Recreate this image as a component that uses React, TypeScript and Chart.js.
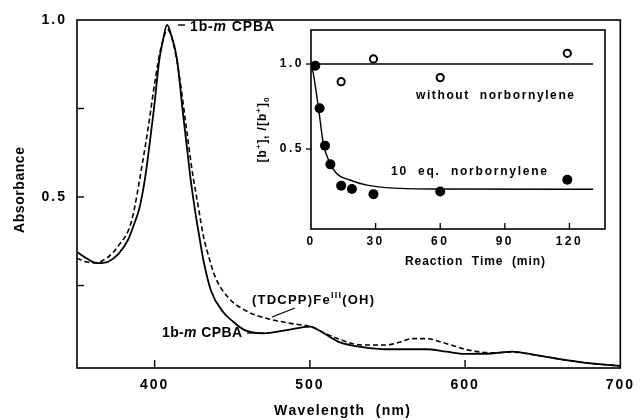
import React, { useEffect, useRef } from 'react';
import { Chart, registerables } from 'chart.js';

Chart.register(...registerables);

const FONT = '"Liberation Sans", Arial, Helvetica, sans-serif';

// ---- Main spectrum: 1b-mCPBA (solid) ----
const solidWavelength = [350, 355, 360, 364, 370, 377, 383, 387, 390, 393, 395.5, 399.5, 403, 405, 408, 410.5, 414.5, 418, 421, 423, 426, 429.5, 431.5, 436.5, 444, 450, 458, 470, 485, 500, 509, 519, 534, 549, 566, 575, 588, 600, 617, 630, 645, 664, 681, 700];
const solidAbsorbance = [0.345, 0.33, 0.317, 0.313, 0.317, 0.341, 0.38, 0.426, 0.465, 0.53, 0.605, 0.746, 0.887, 0.934, 0.986, 0.96, 0.887, 0.746, 0.633, 0.557, 0.463, 0.37, 0.32, 0.233, 0.176, 0.15, 0.124, 0.115, 0.124, 0.134, 0.115, 0.09, 0.076, 0.07, 0.07, 0.07, 0.063, 0.057, 0.058, 0.063, 0.054, 0.04, 0.03, 0.023];

// ---- Main spectrum: (TDCPP)Fe(III)(OH) (dashed) ----
const dashedWavelength = [350, 355, 361, 369, 377, 385, 392.5, 396, 400, 404, 408.5, 412, 416, 420, 424, 428.5, 431.5, 434, 439, 447, 460, 472.5, 487.5, 500, 515, 534, 549, 558, 566, 575, 587, 602, 617, 630, 645, 664, 681, 700];
const dashedAbsorbance = [0.327, 0.318, 0.314, 0.327, 0.364, 0.43, 0.605, 0.7, 0.82, 0.92, 0.972, 0.935, 0.84, 0.71, 0.58, 0.463, 0.388, 0.345, 0.275, 0.218, 0.176, 0.157, 0.143, 0.134, 0.105, 0.082, 0.082, 0.09, 0.1, 0.1, 0.087, 0.068, 0.06, 0.062, 0.054, 0.04, 0.03, 0.023];

const mainXTicks = [400, 500, 600, 700];
const mainYTicks = [0.25, 0.5, 0.75, 1.0];
const mainYLabels = ['', '0.5', '', '1.0'];

// ---- Inset ----
const withoutTime = [14, 29, 60, 119];
const withoutRatio = [0.896, 1.03, 0.92, 1.063];
const norbTime = [2, 4, 6.5, 9, 14, 19, 29, 60, 119];
const norbRatio = [0.99, 0.74, 0.52, 0.41, 0.285, 0.265, 0.235, 0.25, 0.32];
const fitTime = [0, 1, 2, 3.4, 5.7, 8.8, 11.9, 18, 26, 41, 60, 131];
const fitRatio = [1.0, 0.95, 0.87, 0.75, 0.535, 0.416, 0.357, 0.318, 0.288, 0.269, 0.265, 0.264];
const flatTime = [0, 131];
const flatRatio = [1.0, 1.0];

const insetXTicks = [0, 30, 60, 90, 120];
const insetYTicks = [0.5, 1.0];

type Part = { t: string; it?: boolean; sup?: boolean; sub?: boolean };

function fontOf(p: Part, size: number) {
  const s = p.sup || p.sub ? Math.round(size * 0.68) : size;
  return `${p.it ? 'italic ' : ''}bold ${s}px ${FONT}`;
}

function drawRich(ctx: any, parts: Part[], x: number, y: number, size: number, opts: { width?: number; align?: 'left' | 'center'; spacing?: number }) {
  ctx.save();
  ctx.textBaseline = 'middle';
  ctx.textAlign = 'left';
  ctx.fillStyle = '#000';
  try { ctx.letterSpacing = '0px'; } catch (e) { /* ignore */ }
  let nChars = 0;
  let natural = 0;
  for (const p of parts) {
    ctx.font = fontOf(p, size);
    for (const ch of Array.from(p.t)) { natural += ctx.measureText(ch).width; nChars += 1; }
  }
  let sp = opts.spacing ?? 0;
  if (opts.width) sp = (opts.width - natural) / Math.max(1, nChars - 1);
  const total = natural + sp * (nChars - 1);
  let cx = opts.align === 'center' ? x - total / 2 : x;
  for (const p of parts) {
    ctx.font = fontOf(p, size);
    const dy = p.sup ? -size * 0.38 : p.sub ? size * 0.32 : 0;
    for (const ch of Array.from(p.t)) {
      ctx.fillText(ch, cx, y + dy);
      cx += ctx.measureText(ch).width + sp;
    }
  }
  ctx.restore();
}

function line(ctx: any, x1: number, y1: number, x2: number, y2: number, w = 1.4) {
  ctx.beginPath();
  ctx.lineWidth = w;
  ctx.moveTo(x1, y1);
  ctx.lineTo(x2, y2);
  ctx.stroke();
}

const mbcpba: Part[] = [{ t: '1b-' }, { t: 'm', it: true }, { t: ' CPBA' }];

const mainPlugin = {
  id: 'mainDecor',
  beforeDraw(chart: any) {
    try { chart.ctx.letterSpacing = '2px'; } catch (e) { /* ignore */ }
  },
  afterDraw(chart: any) {
    const { ctx, chartArea } = chart;
    const { left, right, top, bottom } = chartArea;
    const xs = chart.scales.x;
    const ys = chart.scales.y;
    ctx.save();
    ctx.strokeStyle = '#000';
    ctx.lineWidth = 1.6;
    ctx.strokeRect(left, top, right - left, bottom - top);
    mainXTicks.forEach((v) => {
      const px = xs.getPixelForValue(v);
      if (v < 700) line(ctx, px, bottom, px, bottom - 8, 1.4);
    });
    mainYTicks.forEach((v) => {
      const py = ys.getPixelForValue(v);
      if (v < 1) line(ctx, left, py, left + 7, py, 1.4);
    });
    // axis titles
    drawRich(ctx, [{ t: 'Wavelength  (nm)' }], 342, 411, 14, { width: 136, align: 'center' });
    ctx.save();
    ctx.translate(20, 190);
    ctx.rotate(-Math.PI / 2);
    drawRich(ctx, [{ t: 'Absorbance' }], 0, 0, 14, { width: 86, align: 'center' });
    ctx.restore();
    // annotations
    line(ctx, 178, 25, 185, 25, 1.4);
    drawRich(ctx, mbcpba, 190, 27, 14, { width: 84 });
    drawRich(ctx, [{ t: '(TDCPP)Fe' }, { t: 'III', sup: true }, { t: '(OH)' }], 252, 300, 13, { width: 122 });
    line(ctx, 295, 308, 272, 317, 1.3);
    drawRich(ctx, mbcpba, 162, 333, 14, { width: 80 });
    line(ctx, 247, 333, 264, 333, 1.3);
    ctx.restore();
  },
};

const insetPlugin = {
  id: 'insetDecor',
  beforeDraw(chart: any) {
    try { chart.ctx.letterSpacing = '2.5px'; } catch (e) { /* ignore */ }
  },
  afterDraw(chart: any) {
    const { ctx, chartArea } = chart;
    const { left, right, top, bottom } = chartArea;
    const xs = chart.scales.x;
    const ys = chart.scales.y;
    ctx.save();
    ctx.strokeStyle = '#000';
    ctx.lineWidth = 1.6;
    ctx.strokeRect(left, top, right - left, bottom - top);
    insetXTicks.forEach((v) => {
      const px = xs.getPixelForValue(v);
      if (v > 0) line(ctx, px, bottom, px, bottom - 6, 1.3);
    });
    insetYTicks.forEach((v) => {
      const py = ys.getPixelForValue(v);
      line(ctx, left - 5, py, left, py, 1.3);
    });
    drawRich(ctx, [{ t: 'Reaction  Time  (min)' }], 405, 262, 12, { width: 140 });
    ctx.save();
    ctx.translate(263, 130);
    ctx.rotate(-Math.PI / 2);
    drawRich(ctx, [{ t: '[b' }, { t: '+', sup: true }, { t: ']' }, { t: 't', sub: true }, { t: ' /[b' }, { t: '+', sup: true }, { t: ']' }, { t: '0', sub: true }], 0, 0, 12, { spacing: 1, align: 'center' });
    ctx.restore();
    drawRich(ctx, [{ t: 'without  norbornylene' }], 416, 96, 12, { width: 158 });
    drawRich(ctx, [{ t: '10  eq.  norbornylene' }], 391, 172, 12, { width: 156 });
    ctx.restore();
  },
};

const pts = (xs: number[], ys: number[]) => xs.map((x, i) => ({ x, y: ys[i] }));

export default function App() {
  const mainRef = useRef<HTMLCanvasElement>(null);
  const insetRef = useRef<HTMLCanvasElement>(null);

  useEffect(() => {
    const tickFont = { family: FONT, size: 14, weight: 'bold' as const };
    const mainChart = new Chart(mainRef.current as HTMLCanvasElement, {
      type: 'scatter',
      data: {
        datasets: [
          {
            data: pts(solidWavelength, solidAbsorbance),
            showLine: true,
            borderColor: '#000',
            borderWidth: 1.8,
            pointRadius: 0,
            cubicInterpolationMode: 'monotone',
            fill: false,
          } as any,
          {
            data: pts(dashedWavelength, dashedAbsorbance),
            showLine: true,
            borderColor: '#000',
            borderWidth: 1.6,
            borderDash: [5, 3],
            pointRadius: 0,
            cubicInterpolationMode: 'monotone',
            fill: false,
          } as any,
        ],
      },
      options: {
        responsive: false,
        animation: false,
        devicePixelRatio: 1,
        events: [],
        layout: { padding: { top: 20, right: 14, left: 0, bottom: 0 } },
        plugins: { legend: { display: false }, tooltip: { enabled: false } },
        scales: {
          x: {
            type: 'linear',
            min: 350,
            max: 700,
            afterBuildTicks: (s: any) => { s.ticks = mainXTicks.map((v) => ({ value: v })); },
            afterFit: (s: any) => { s.height = 52; },
            grid: { display: false, drawTicks: false },
            border: { display: false },
            ticks: { color: '#000', font: tickFont, padding: 9, maxRotation: 0, autoSkip: false, callback: (v: any) => String(v) },
          },
          y: {
            type: 'linear',
            min: 0.017,
            max: 1.0,
            afterBuildTicks: (s: any) => { s.ticks = mainYTicks.map((v) => ({ value: v })); },
            afterFit: (s: any) => { s.width = 77; },
            grid: { display: false, drawTicks: false },
            border: { display: false },
            ticks: { color: '#000', font: tickFont, padding: 10, autoSkip: false, callback: (_v: any, i: number) => mainYLabels[i] },
          },
        },
      } as any,
      plugins: [mainPlugin],
    });

    const insetFont = { family: FONT, size: 12, weight: 'bold' as const };
    const insetChart = new Chart(insetRef.current as HTMLCanvasElement, {
      type: 'scatter',
      data: {
        datasets: [
          { data: pts(norbTime, norbRatio), showLine: false, pointRadius: 5, pointBackgroundColor: '#000', pointBorderWidth: 0, order: 0 } as any,
          { data: pts(withoutTime, withoutRatio), showLine: false, pointRadius: 3.6, pointBackgroundColor: '#fff', pointBorderColor: '#000', pointBorderWidth: 2, order: 0 } as any,
          { data: pts(fitTime, fitRatio), showLine: true, borderColor: '#000', borderWidth: 1.4, pointRadius: 0, cubicInterpolationMode: 'monotone', order: 5 } as any,
          { data: pts(flatTime, flatRatio), showLine: true, borderColor: '#000', borderWidth: 1.4, pointRadius: 0, order: 5 } as any,
        ],
      },
      options: {
        responsive: false,
        animation: false,
        devicePixelRatio: 1,
        events: [],
        layout: { padding: { top: 30, right: 36, left: 271, bottom: 161 } },
        plugins: { legend: { display: false }, tooltip: { enabled: false } },
        scales: {
          x: {
            type: 'linear',
            min: 0,
            max: 136.5,
            afterBuildTicks: (s: any) => { s.ticks = insetXTicks.map((v) => ({ value: v })); },
            afterFit: (s: any) => { s.height = 30; },
            grid: { display: false, drawTicks: false },
            border: { display: false },
            ticks: { color: '#000', font: insetFont, padding: 5, maxRotation: 0, autoSkip: false, callback: (v: any) => String(v) },
          },
          y: {
            type: 'linear',
            min: 0.03,
            max: 1.2,
            afterBuildTicks: (s: any) => { s.ticks = insetYTicks.map((v) => ({ value: v })); },
            afterFit: (s: any) => { s.width = 40; },
            grid: { display: false, drawTicks: false },
            border: { display: false },
            ticks: { color: '#000', font: insetFont, padding: 7, autoSkip: false, callback: (v: any) => Number(v).toFixed(1) },
          },
        },
      } as any,
      plugins: [insetPlugin],
    });

    return () => {
      mainChart.destroy();
      insetChart.destroy();
    };
  }, []);

  const canvasStyle: React.CSSProperties = { position: 'absolute', left: 0, top: 0, width: 641, height: 420 };
  return (
    <div style={{ position: 'absolute', left: 0, top: 0, width: 641, height: 420, background: '#fff', overflow: 'hidden' }}>
      <canvas ref={mainRef} width={641} height={420} style={canvasStyle} />
      <canvas ref={insetRef} width={641} height={420} style={canvasStyle} />
    </div>
  );
}
